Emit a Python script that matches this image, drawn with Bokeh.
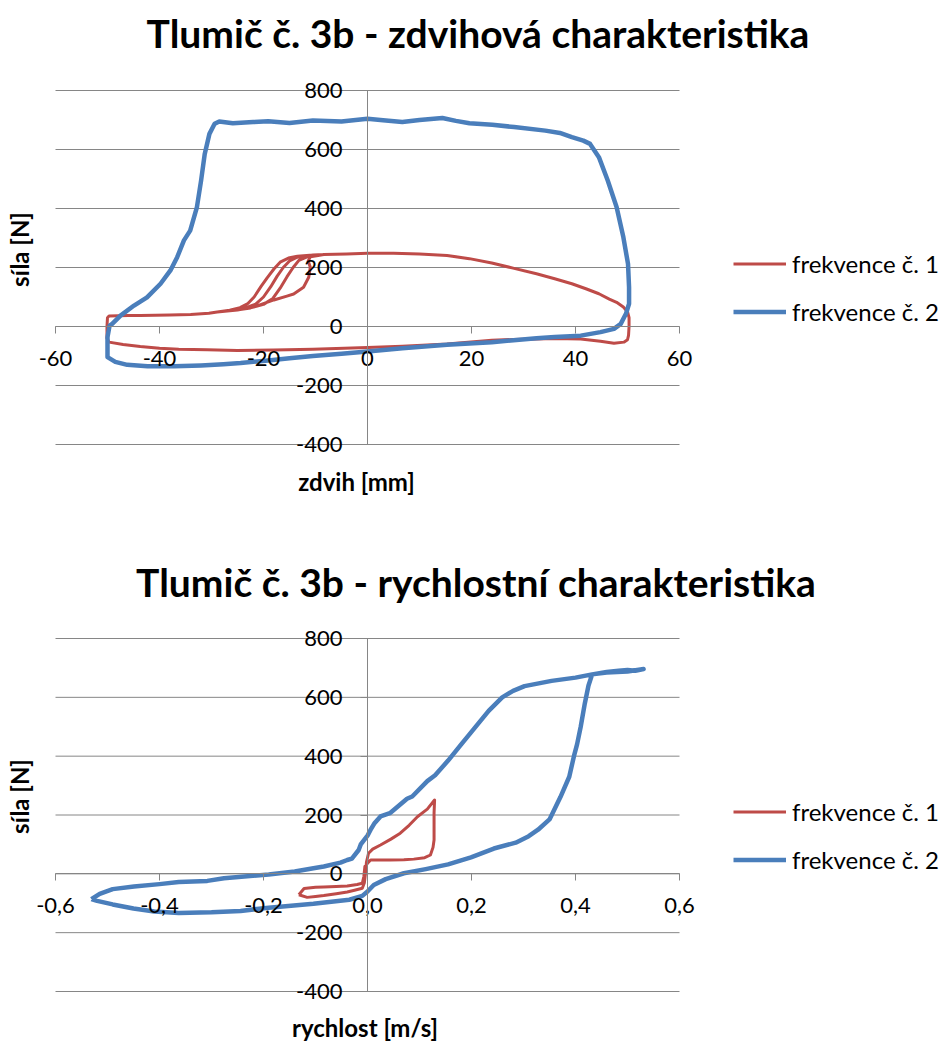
import math
from bokeh.plotting import figure
from bokeh.models import Label, Legend, LegendItem, FixedTicker, Range1d
from bokeh.layouts import column
from bokeh.embed import file_html
from bokeh.resources import INLINE

FONT = "Lato"
BLUE = "#4A7EBB"
RED = "#BE4B48"
GRID = "#868686"
W = 944

# ---------------- chart 1 : stroke characteristic ----------------
title1 = "Tlumič č. 3b - zdvihová charakteristika"
xlabel1 = "zdvih [mm]"
ylabel1 = "síla [N]"
xticks1 = [-60, -40, -20, 0, 20, 40, 60]
xticklabels1 = ["-60", "-40", "-20", "0", "20", "40", "60"]
yticks = [-400, -200, 0, 200, 400, 600, 800]
yticklabels = ["-400", "-200", "0", "200", "400", "600", "800"]
series_names = ["frekvence č. 1", "frekvence č. 2"]

# frekvence č. 1 (several overlapping cycles)
zdvih_f1 = [
    -50.0, -49.7, -46.0, -43.7, -38.0, -34.0, -30.5, -28.9,
    -26.5, -24.5, -23.0, -21.8, -20.5, -19.3, -18.0, -16.8, -15.2, -13.5, -10.5,
    -8.4, -4.0, 0.0, 5.0, 10.0, 15.3, 19.6, 23.9, 28.0, 32.5, 36.0, 39.3, 42.0, 44.5, 46.5, 47.9, 49.2, 50.0,
    50.3, 50.3, 50.2, 50.0, 49.3, 47.4, 44.8, 41.0, 36.0, 32.5, 28.0, 23.9, 15.3, 6.7, 0.0, -10.5, -18.0,
    -25.0, -30.8, -36.3, -40.0, -43.7, -47.0, -49.7, -50.1, -50.1,
    -50.0, -49.7, -46.0, -43.7, -38.0, -34.0, -30.5, -28.9,
    -26.0, -23.5, -21.5, -20.0, -18.6, -17.4, -16.2, -15.0, -13.5, -10.5,
    -8.4, -4.0, 0.0, 5.0, 10.0, 15.3, 19.6, 23.9, 28.0, 32.5, 36.0, 39.3, 42.0, 44.5, 46.5, 47.9, 49.2, 50.0,
    50.3, 50.3, 50.2, 50.0, 49.3, 47.4, 44.8, 41.0, 36.0, 32.5, 28.0, 23.9, 15.3, 6.7, 0.0, -10.5, -18.0,
    -25.0, -30.8, -36.3, -40.0, -43.7, -47.0, -49.7, -50.1, -50.1,
    -50.0, -49.7, -46.0, -43.7, -38.0, -34.0, -30.5, -28.9,
    -25.5, -22.5, -20.0, -18.2, -16.8, -15.5, -14.3, -13.2, -11.5, -10.0,
    -8.4, -4.0, 0.0, 5.0, 10.0, 15.3, 19.6, 23.9, 28.0, 32.5, 36.0, 39.3, 42.0, 44.5, 46.5, 47.9, 49.2, 50.0,
    50.3, 50.3, 50.2, 50.0, 49.3, 47.4, 44.8, 41.0, 36.0, 32.5, 28.0, 23.9, 15.3, 6.7, 0.0, -10.5, -18.0,
    -25.0, -30.8, -36.3, -40.0, -43.7, -47.0, -49.7, -50.1, -50.1,
    -50.0, -49.7, -46.0, -43.7, -38.0, -34.0, -30.5, -28.9,
    -25.0, -21.5, -18.0, -15.5, -14.2, -12.3, -11.3, -11.0, -11.4, -11.0, -9.5,
    -8.4, -4.0, 0.0, 5.0, 10.0, 15.3, 19.6, 23.9, 28.0, 32.5, 36.0, 39.3, 42.0, 44.5, 46.5, 47.9, 49.2, 50.0,
    50.3, 50.3, 50.2, 50.0, 49.3, 47.4, 44.8, 41.0, 36.0, 32.5, 28.0, 23.9, 15.3, 6.7, 0.0, -10.5, -18.0,
    -25.0, -30.8, -36.3, -40.0, -43.7, -47.0, -49.7, -50.1, -50.1, -50.0,
]
sila_f1 = [
    30, 36, 37, 37, 39, 41, 45, 49,
    55, 64, 78, 100, 135, 165, 195, 218, 232, 238, 242,
    244, 246, 248, 248, 246, 241, 230, 215, 198, 179, 162, 145, 128, 111, 93, 82, 66, 50,
    30, 0, -30, -45, -53, -57, -50, -42, -41, -42, -44, -47, -59, -67, -71, -77, -80,
    -81, -79, -77, -74, -68, -61, -53, -40, 0,
    30, 36, 37, 37, 39, 41, 45, 49,
    55, 63, 76, 100, 135, 170, 200, 222, 235, 242,
    244, 246, 248, 248, 246, 241, 230, 215, 198, 179, 162, 145, 128, 111, 93, 82, 66, 50,
    30, 0, -30, -45, -53, -57, -50, -42, -41, -42, -44, -47, -59, -67, -71, -77, -80,
    -81, -79, -77, -74, -68, -61, -53, -40, 0,
    30, 36, 37, 37, 39, 41, 45, 49,
    55, 63, 75, 95, 130, 168, 200, 224, 237, 242,
    244, 246, 248, 248, 246, 241, 230, 215, 198, 179, 162, 145, 128, 111, 93, 82, 66, 50,
    30, 0, -30, -45, -53, -57, -50, -42, -41, -42, -44, -47, -59, -67, -71, -77, -80,
    -81, -79, -77, -74, -68, -61, -53, -40, 0,
    30, 36, 37, 37, 39, 41, 45, 49,
    56, 68, 90, 103, 110, 133, 167, 201, 222, 236, 241,
    244, 246, 248, 248, 246, 241, 230, 215, 198, 179, 162, 145, 128, 111, 93, 82, 66, 50,
    30, 0, -30, -45, -53, -57, -50, -42, -41, -42, -44, -47, -59, -67, -71, -77, -80,
    -81, -79, -77, -74, -68, -61, -53, -40, 0, 30,
]

# frekvence č. 2
zdvih_f2 = [
    -50.0, -50.0, -49.6, -49.1, -47.5, -44.9, -42.4, -39.8, -37.9, -36.6, -35.3, -34.1, -32.8,
    -32.0, -31.3, -30.4, -29.4, -28.5, -25.9, -22.0, -19.1, -15.0, -10.5, -5.0, 0.0, 3.0, 6.7,
    10.0, 14.4, 17.0, 19.6, 24.0, 28.2, 34.2, 37.0, 39.3, 41.5, 42.8, 44.5, 46.2, 47.9, 49.2,
    50.1, 50.3, 50.3, 49.7, 48.7, 47.4, 44.8, 41.0, 36.0, 32.5, 23.9, 15.3, 6.7, 0.0, -5.0,
    -10.5, -15.0, -19.1, -24.4, -27.7, -32.0, -37.2, -42.3, -46.2, -48.5, -50.0, -50.0,
]
sila_f2 = [
    -98, -36, 3, 9, 37, 71, 99, 145, 190, 235, 292, 325, 405,
    495, 585, 653, 687, 695, 689, 693, 696, 690, 698, 695, 704, 699, 693,
    700, 707, 697, 689, 684, 676, 664, 656, 642, 630, 619, 574, 495, 405, 303,
    212, 133, 77, 43, 9, -8, -19, -31, -36, -40, -53, -62, -74, -85, -92,
    -100, -108, -115, -124, -128, -132, -135, -135, -130, -120, -104, -98,
]

# ---------------- chart 2 : velocity characteristic ----------------
title2 = "Tlumič č. 3b - rychlostní charakteristika"
xlabel2 = "rychlost [m/s]"
ylabel2 = "síla [N]"
xticks2 = [-0.6, -0.4, -0.2, 0.0, 0.2, 0.4, 0.6]
xticklabels2 = ["-0,6", "-0,4", "-0,2", "0,0", "0,2", "0,4", "0,6"]

rychlost_f1 = [
    -0.132, -0.122, -0.100, -0.084, -0.060, -0.039, -0.020, -0.010, -0.007, -0.005, 0.002,
    0.006, 0.025, 0.044, 0.070, 0.089, 0.110, 0.121, 0.126, 0.128, 0.128, 0.129, 0.115,
    0.096, 0.080, 0.063, 0.045, 0.025, 0.010, 0.002, -0.002, -0.004, -0.006, -0.010,
    -0.025, -0.039, -0.060, -0.084, -0.100, -0.116, -0.132,
]
sila_r1 = [
    -71, -50, -46, -45, -43, -41, -36, -32, -9, 25, 40,
    47, 47, 47, 48, 50, 55, 64, 90, 115, 206, 251, 220,
    194, 165, 138, 118, 98, 84, 70, 40, 0, -30, -49,
    -56, -62, -68, -74, -77, -80, -71,
]

rychlost_f2 = [
    -0.531, -0.515, -0.490, -0.449, -0.400, -0.363, -0.308, -0.276, -0.190, -0.140, -0.104,
    -0.084, -0.052, -0.039, -0.030, -0.017, -0.013, 0.000, 0.006, 0.013, 0.025, 0.043, 0.076,
    0.086, 0.115, 0.130, 0.155, 0.181, 0.207, 0.233, 0.259, 0.280, 0.302, 0.354, 0.400, 0.432,
    0.460, 0.483, 0.500, 0.515, 0.531, 0.500, 0.460, 0.432,
    0.425, 0.418, 0.410, 0.403, 0.397, 0.388, 0.371, 0.350, 0.328, 0.310, 0.285, 0.243, 0.199,
    0.155, 0.112, 0.070, 0.035, 0.012, 0.000, -0.010, -0.035, -0.104, -0.190, -0.244, -0.300,
    -0.363, -0.410, -0.450, -0.490, -0.520, -0.531,
]
sila_r2 = [
    -86, -68, -52, -43, -35, -28, -24, -15, -2, 8, 19,
    25, 38, 47, 52, 81, 100, 130, 150, 171, 195, 206, 255,
    263, 315, 335, 385, 442, 498, 554, 600, 622, 638, 656, 667, 678,
    686, 690, 693, 690, 696, 688, 684, 678,
    640, 580, 500, 440, 400, 330, 261, 185, 150, 128, 106, 86, 56,
    32, 16, 2, -18, -38, -60, -75, -88, -102, -115, -126, -131,
    -133, -128, -118, -104, -92, -86,
]


class Frame:
    """Pixel layout of one chart: the plotting area spans the whole canvas,
    the axis box (xticks x yticks) sits at the given pixel rectangle."""

    def __init__(self, height, left, right, top, bottom, xt):
        self.h = height
        self.x0, self.x1 = xt[0], xt[-1]
        self.y0, self.y1 = yticks[0], yticks[-1]
        self.sx = (right - left) / (self.x1 - self.x0)
        self.sy = (bottom - top) / (self.y1 - self.y0)
        self.left, self.top = left, top

    def dx(self, px):
        return self.x0 + (px - self.left) / self.sx

    def dy(self, py):
        return self.y1 - (py - self.top) / self.sy


def make_fig(fr, xt, xlabels):
    p = figure(width=W, height=fr.h, output_backend="svg", toolbar_location=None,
               x_range=Range1d(fr.dx(0), fr.dx(W)), y_range=Range1d(fr.dy(fr.h), fr.dy(0)),
               min_border=0, min_border_left=0, min_border_right=0,
               min_border_top=0, min_border_bottom=0)
    p.title.visible = False
    p.xaxis.fixed_location = 0
    p.yaxis.fixed_location = 0
    p.xaxis.bounds = (xt[0], xt[-1])
    p.yaxis.bounds = (yticks[0], yticks[-1])
    p.xaxis.ticker = FixedTicker(ticks=xt)
    p.yaxis.ticker = FixedTicker(ticks=yticks)
    p.xaxis.major_label_overrides = {t: l for t, l in zip(xt, xlabels)}
    p.yaxis.major_label_overrides = {t: l for t, l in zip(yticks, yticklabels)}
    for ax in (p.xaxis, p.yaxis):
        ax.axis_line_color = GRID
        ax.axis_line_width = 1
        ax.major_tick_line_color = GRID
        ax.major_tick_out = 7
        ax.major_tick_in = 0
        ax.minor_tick_line_color = None
        ax.major_label_text_font = FONT
        ax.major_label_text_font_size = "22px"
        ax.major_label_text_color = "black"
    p.xaxis.major_label_standoff = 17
    p.yaxis.major_label_standoff = 18
    p.grid.visible = False
    # horizontal gridlines across the axis box
    p.segment(x0=[xt[0]] * len(yticks), x1=[xt[-1]] * len(yticks), y0=yticks, y1=yticks,
              line_color=GRID, line_width=1)
    p.outline_line_color = None
    p.background_fill_color = "white"
    p.border_fill_color = "white"
    return p


def add_text(p, fr, text, px, py, size, bold=False, angle=0.0):
    p.add_layout(Label(x=fr.dx(px), y=fr.dy(py), text=text, text_font=FONT, text_font_size=size,
                       text_font_style="bold" if bold else "normal", text_color="black",
                       text_align="center", text_baseline="middle", angle=angle))


def add_legend(p, renderers, glyph_left, center1, fig_h):
    row, gap = 29, 19
    top = center1 - row / 2
    items = [LegendItem(label=n, renderers=[r]) for n, r in zip(series_names, renderers)]
    lg = Legend(items=items, location=(glyph_left, fig_h - (top + 2 * row + gap)), padding=0, margin=0,
                spacing=gap, glyph_width=53, glyph_height=row, label_height=row, label_standoff=6,
                label_text_font=FONT, label_text_font_size="24px", label_text_color="black",
                border_line_color=None, background_fill_alpha=0)
    p.add_layout(lg)


# ---- figure 1 (page y 0..528)
fr1 = Frame(528, 55, 679, 90, 444, xticks1)
p1 = make_fig(fr1, xticks1, xticklabels1)
r1a = p1.line(zdvih_f1, sila_f1, line_color=RED, line_width=3, line_join="round")
r1b = p1.line(zdvih_f2, sila_f2, line_color=BLUE, line_width=4.5, line_join="round")
add_text(p1, fr1, title1, 477.5, 32, "39px", bold=True)
add_text(p1, fr1, xlabel1, 356, 481, "24px", bold=True)
add_text(p1, fr1, ylabel1, 19, 249, "24px", bold=True, angle=math.pi / 2)
add_legend(p1, [r1a, r1b], 733, 263, fr1.h)

# ---- figure 2 (page y 528..1041)
fr2 = Frame(513, 55, 679, 110, 463, xticks2)
p2 = make_fig(fr2, xticks2, xticklabels2)
r2a = p2.line(rychlost_f1, sila_r1, line_color=RED, line_width=3, line_join="round")
r2b = p2.line(rychlost_f2, sila_r2, line_color=BLUE, line_width=4.5, line_join="round")
add_text(p2, fr2, title2, 475.5, 581 - 528, "39px", bold=True)
add_text(p2, fr2, xlabel2, 364.5, 1027 - 528, "24px", bold=True)
add_text(p2, fr2, ylabel2, 19, 796 - 528, "24px", bold=True, angle=math.pi / 2)
add_legend(p2, [r2a, r2b], 733, 811 - 528, fr2.h)

layout = column(p1, p2)
open("out.html", "w").write(file_html(layout, INLINE))
